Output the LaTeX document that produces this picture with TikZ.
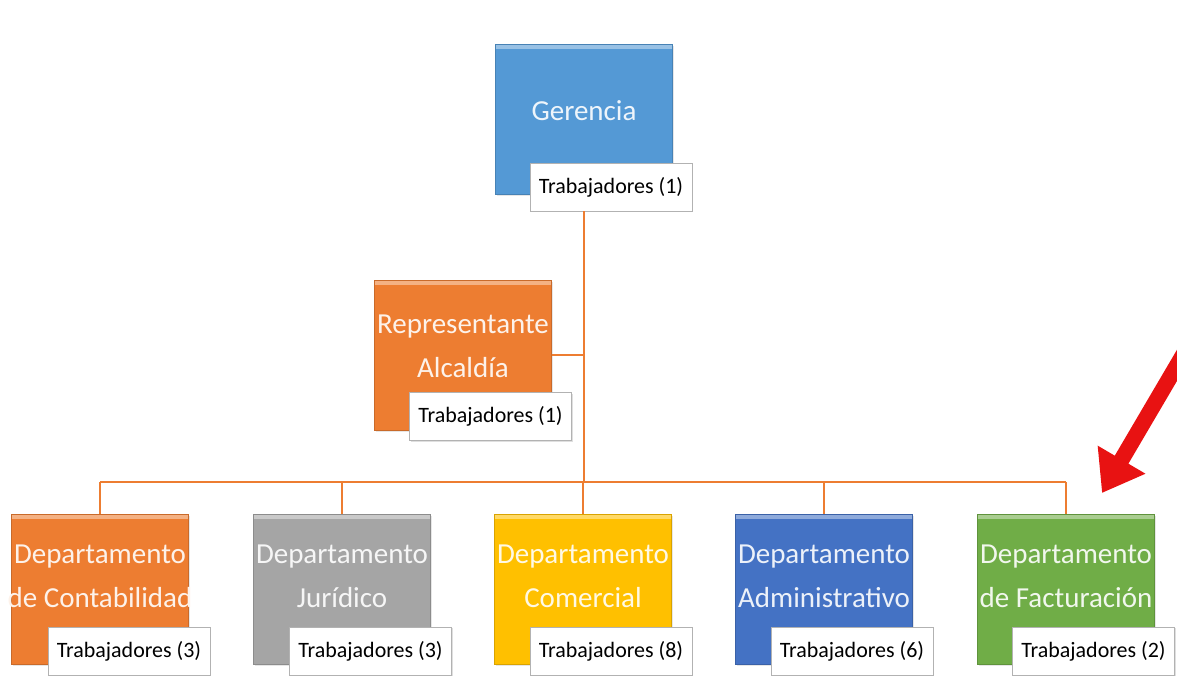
\documentclass[tikz,border=0pt]{standalone}
\usepackage{fontspec}
\setmainfont{Carlito}
\usetikzlibrary{arrows.meta,shadows}

\definecolor{gerblue}{RGB}{84,153,213}
\definecolor{deptorange}{RGB}{237,125,49}
\definecolor{deptgray}{RGB}{165,165,165}
\definecolor{deptgold}{RGB}{255,192,0}
\definecolor{deptblue}{RGB}{68,114,196}
\definecolor{deptgreen}{RGB}{112,173,71}
\definecolor{alertred}{RGB}{232,18,18}

\begin{document}
\begin{tikzpicture}[
    x=0.02cm, y=-0.02cm,
    unitnode/.style={fill=#1, draw=#1!85!black, line width=0.4pt, minimum width=3.54cm, minimum height=3.0cm,
        drop shadow={opacity=0.2, shadow xshift=1pt, shadow yshift=-1pt},
        path picture={\fill[white, opacity=0.4] (path picture bounding box.north west) rectangle ([yshift=-3pt]path picture bounding box.north east);}},
    unittext/.style={text=#1!10!white, align=center, font=\fontsize{16.5}{25}\selectfont, inner sep=0pt},
    countnode/.style={draw=gray!60, fill=white, line width=0.5pt, minimum width=3.24cm, minimum height=0.96cm,
        font=\fontsize{12.5}{14}\selectfont, drop shadow={opacity=0.25, shadow xshift=0.8pt, shadow yshift=-0.8pt}},
    linkline/.style={draw=deptorange, line width=1.1pt},
    alertarrow/.style={draw=alertred, line width=9pt, -{Triangle[length=22pt, width=30pt]}},
]
\useasboundingbox (0,0) rectangle (1177,677);

% top
\node[unitnode=gerblue] (gerencia) at (584,119) {};
\node[unittext=gerblue] (gerenciatxt) at ([yshift=5pt]gerencia.center) {Gerencia};
\node[countnode] (gerenciacount) at (611,187) {Trabajadores (1)};

% staff unit
\node[unitnode=deptorange] (alcaldia) at (463,355) {};
\node[unittext=deptorange] (alcaldiatxt) at ([yshift=5pt]alcaldia.center) {Representante\\Alcaldía};
\node[countnode] (alcaldiacount) at (490.5,416.5) {Trabajadores (1)};

% departments
\node[unitnode=deptorange] (contab) at (100,589) {};
\node[unittext=deptorange] (contabtxt) at ([yshift=7pt]contab.center) {Departamento\\de Contabilidad};
\node[countnode] (contabcount) at (129,651) {Trabajadores (3)};

\node[unitnode=deptgray] (juridico) at (342,589) {};
\node[unittext=deptgray] (juridicotxt) at ([yshift=7pt]juridico.center) {Departamento\\Jurídico};
\node[countnode] (juridicocount) at (370.5,651) {Trabajadores (3)};

\node[unitnode=deptgold] (comercial) at (583,589) {};
\node[unittext=deptgold] (comercialtxt) at ([yshift=7pt]comercial.center) {Departamento\\Comercial};
\node[countnode] (comercialcount) at (611,651) {Trabajadores (8)};

\node[unitnode=deptblue] (admin) at (824,589) {};
\node[unittext=deptblue] (admintxt) at ([yshift=7pt]admin.center) {Departamento\\Administrativo};
\node[countnode] (admincount) at (852,651) {Trabajadores (6)};

\node[unitnode=deptgreen] (factur) at (1066,589) {};
\node[unittext=deptgreen] (facturtxt) at ([yshift=7pt]factur.center) {Departamento\\de Facturación};
\node[countnode] (facturcount) at (1093.5,651) {Trabajadores (2)};

\coordinate (bus) at (584,482);

% connectors
\draw[linkline] (gerenciacount.south -| gerencia.south) -- (gerencia.south |- bus);
\draw[linkline] (alcaldia.east) -- (alcaldia.east -| gerencia.south);
\draw[linkline] (contab.north |- bus) -- (factur.north |- bus);
\draw[linkline] (contab.north) -- (contab.north |- bus);
\draw[linkline] (juridico.north) -- (juridico.north |- bus);
\draw[linkline] (comercial.north) -- (comercial.north |- bus);
\draw[linkline] (admin.north) -- (admin.north |- bus);
\draw[linkline] (factur.north) -- (factur.north |- bus);

% pointer
\coordinate (arrowtail) at (1186,350);
\coordinate (arrowtip) at (1102,493);
\draw[alertarrow] (arrowtail) -- (arrowtip);

\end{tikzpicture}
\end{document}
